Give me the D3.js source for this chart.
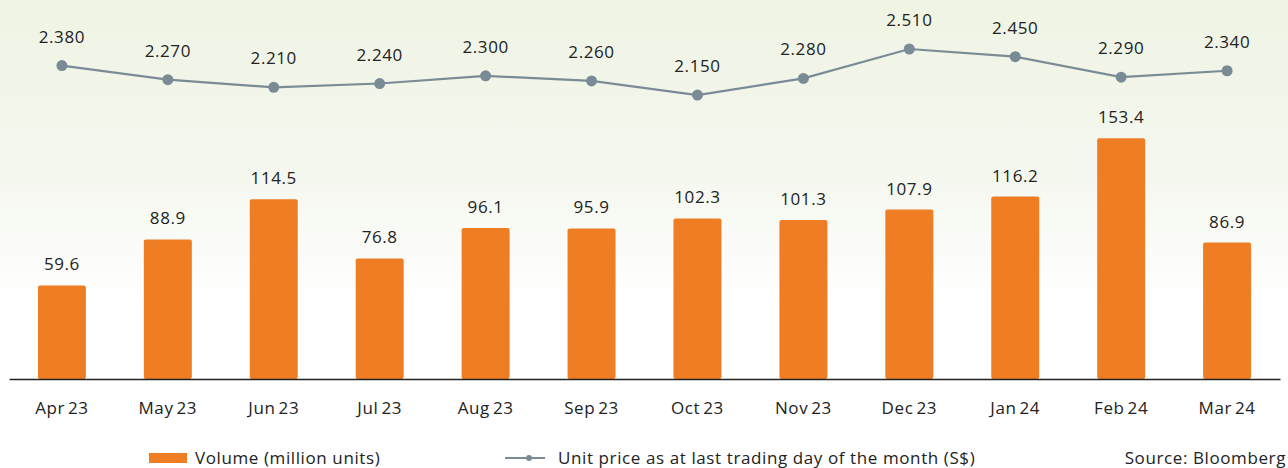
<!DOCTYPE html>
<html>
<head>
<meta charset="utf-8">
<script src="https://cdn.jsdelivr.net/npm/d3@7"></script>
<style>
  body { margin: 0; background: #fff; }
  svg text { font-family: "Open Sans", sans-serif; fill: #222; font-size: 17px; letter-spacing: 0.6px; }
</style>
</head>
<body>
<div class="chart"></div>
<script>
const months = ["Apr 23", "May 23", "Jun 23", "Jul 23", "Aug 23", "Sep 23", "Oct 23", "Nov 23", "Dec 23", "Jan 24", "Feb 24", "Mar 24"];
const volume = [59.6, 88.9, 114.5, 76.8, 96.1, 95.9, 102.3, 101.3, 107.9, 116.2, 153.4, 86.9];
const price = [2.38, 2.27, 2.21, 2.24, 2.3, 2.26, 2.15, 2.28, 2.51, 2.45, 2.29, 2.34];

const width = 1288,
  height = 468,
  baseY = 379;

const svg = d3
  .select(".chart")
  .append("svg")
  .attr("width", width)
  .attr("height", height);

// background fade
const grad = svg.append("defs").append("linearGradient")
  .attr("id", "bg")
  .attr("x1", 0).attr("y1", 0).attr("x2", 0).attr("y2", 1);
grad.append("stop").attr("offset", "0%").attr("stop-color", "#eff4e4");
grad.append("stop").attr("offset", "45%").attr("stop-color", "#f4f7ee");
grad.append("stop").attr("offset", "80%").attr("stop-color", "#ffffff");
svg.append("rect")
  .attr("width", width)
  .attr("height", baseY)
  .attr("fill", "url(#bg)");

// scales
const xScale = d3.scaleBand().domain(months).range([9, 1280]).paddingInner(0.547).paddingOuter(0.273);
const yScale = d3.scaleLinear().domain([0, 160]).range([baseY, baseY - 251.2]);
const pScale = d3.scaleLinear().domain([2.0, 2.6]).range([114.2, 37.5]);

// bars
svg.selectAll("rect.bar")
  .data(volume)
  .enter()
  .append("rect")
  .attr("class", "bar")
  .attr("x", (d, i) => xScale(months[i]))
  .attr("y", (d) => yScale(d))
  .attr("width", xScale.bandwidth())
  .attr("height", (d) => baseY - yScale(d))
  .attr("rx", 2)
  .style("fill", "#ee7d24");

svg.selectAll("text.vol")
  .data(volume)
  .enter()
  .append("text")
  .attr("class", "vol")
  .attr("x", (d, i) => xScale(months[i]) + xScale.bandwidth() / 2)
  .attr("y", (d) => yScale(d) - 15)
  .attr("text-anchor", "middle")
  .text((d) => d.toFixed(1));

// x axis
const xAxis = d3.axisBottom(xScale).tickSize(0).tickPadding(23);
const gx = svg.append("g")
  .attr("transform", "translate(0," + baseY + ")")
  .call(xAxis);
gx.select(".domain").attr("stroke", "#222").attr("stroke-width", 1.5);
gx.selectAll("text")
  .style("word-spacing", "-2px")
  .attr("fill", "#222");
gx.attr("font-size", null).attr("font-family", null);

// price line
const line = d3.line()
  .x((d, i) => xScale(months[i]) + xScale.bandwidth() / 2)
  .y((d) => pScale(d));

svg.append("path")
  .datum(price)
  .attr("d", line)
  .attr("fill", "none")
  .attr("stroke", "#7b8b95")
  .attr("stroke-width", 2.2);

svg.selectAll("circle.pt")
  .data(price)
  .enter()
  .append("circle")
  .attr("class", "pt")
  .attr("cx", (d, i) => xScale(months[i]) + xScale.bandwidth() / 2)
  .attr("cy", (d) => pScale(d))
  .attr("r", 5.5)
  .attr("fill", "#7b8b95");

svg.selectAll("text.price")
  .data(price)
  .enter()
  .append("text")
  .attr("class", "price")
  .attr("x", (d, i) => xScale(months[i]) + xScale.bandwidth() / 2)
  .attr("y", (d) => pScale(d) - 23)
  .attr("text-anchor", "middle")
  .text((d) => d.toFixed(3));

// legend
const legend = svg.append("g");
legend.append("rect")
  .attr("x", 149).attr("y", 453).attr("width", 38).attr("height", 10)
  .attr("fill", "#ee7d24");
legend.append("text")
  .attr("x", 195).attr("y", 464)
  .text("Volume (million units)");
legend.append("line")
  .attr("x1", 505).attr("x2", 545).attr("y1", 458).attr("y2", 458)
  .attr("stroke", "#7b8b95").attr("stroke-width", 2);
legend.append("circle")
  .attr("cx", 529).attr("cy", 458).attr("r", 3)
  .attr("fill", "#7b8b95");
legend.append("text")
  .attr("x", 558).attr("y", 464)
  .text("Unit price as at last trading day of the month (S$)");
legend.append("text")
  .attr("x", 1286).attr("y", 464)
  .attr("text-anchor", "end")
  .text("Source: Bloomberg");
</script>
</body>
</html>
